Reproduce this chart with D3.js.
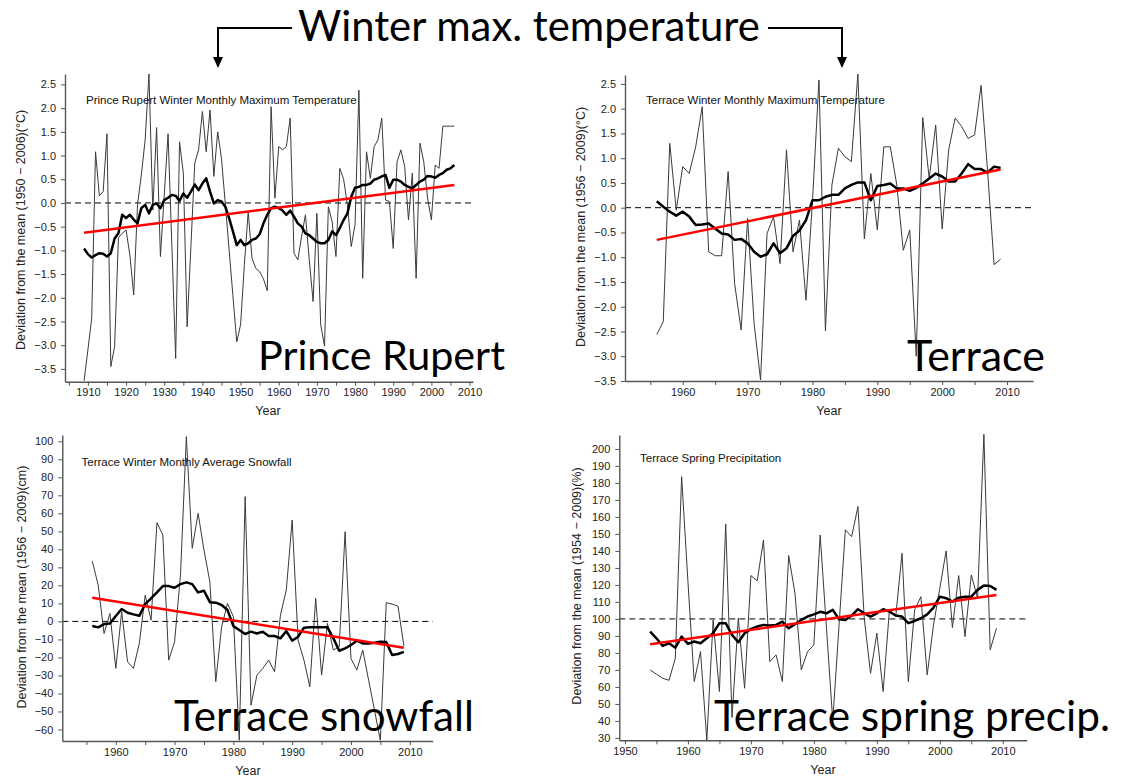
<!DOCTYPE html>
<html>
<head>
<meta charset="utf-8">
<script src="https://cdn.jsdelivr.net/npm/d3@7"></script>
<style>
  body { margin: 0; background: #fff; }
  svg { display: block; }
</style>
</head>
<body>
<script>
// ---- Prince Rupert winter monthly maximum temperature (deviation, °C), 1909–2006
const prStart = 1909;
const prMax = [
  -3.75, -3.1, -2.43, 1.08, 0.15, 0.24, 1.46, -3.45, -3.03, -0.73,
  -0.64, -0.57, -1.1, -1.94, -0.04, 0.59, 1.33, 2.72, -0.15, 1.59,
  -1.13, 0.15, 1.46, -0.9, -3.28, 1.29, 0.63, -2.61, -0.9, 0.84,
  1.12, 1.93, 1.08, 1.96, 0.56, 1.5, 0.94, -0.02, -0.99, -1.96,
  -2.93, -2.57, -1.3, -0.18, -1.17, -1.38, -1.45, -1.6, -1.85, 2.03,
  0.1, 1.19, 1.12, 1.19, 1.79, -1.06, -1.2, -0.7, -0.25, -1.2,
  -2.08, -0.22, -2.57, -3.02, -0.08, -0.4, -1.13, 0.73, 0.5, -0.04,
  -0.92, -0.45, 2.38, -1.59, 1.08, 0.52, 1.19, 1.33, 1.79, 0.06,
  0.03, -0.96, 0.87, 1.12, 0.77, -0.36, 0.63, -1.59, 1.26, 0.87,
  0.1, -0.36, 0.8, 0.73, 1.62, 1.62, 1.62, 1.62
];
const prMaxSmooth = [
  -0.96, -1.08, -1.15, -1.1, -1.06, -1.07, -1.13, -1.06, -0.75, -0.64,
  -0.25, -0.32, -0.25, -0.35, -0.43, -0.11, -0.04, -0.22, -0.04, -0.01,
  -0.11, 0.06, 0.11, 0.17, 0.15, 0.04, 0.2, 0.11, 0.24, 0.39,
  0.27, 0.41, 0.52, 0.24, -0.01, 0.06, 0.03, -0.08, -0.32, -0.6,
  -0.89, -0.78, -0.89, -0.85, -0.78, -0.75, -0.66, -0.43, -0.25, -0.11,
  -0.08, -0.11, -0.16, -0.25, -0.16, -0.29, -0.43, -0.5, -0.64, -0.68,
  -0.75, -0.82, -0.85, -0.85, -0.78, -0.6, -0.68, -0.53, -0.36, -0.22,
  0.13, 0.32, 0.34, 0.38, 0.38, 0.41, 0.49, 0.52, 0.56, 0.59,
  0.32, 0.49, 0.49, 0.45, 0.38, 0.34, 0.31, 0.38, 0.45, 0.49,
  0.57, 0.56, 0.53, 0.59, 0.63, 0.7, 0.73, 0.8
];
const prMaxTrend = [-0.63, 0.38];

// ---- Terrace winter monthly maximum temperature (deviation, °C), 1956–2009
const trStart = 1956;
const trMax = [
  -2.56, -2.3, 1.3, -0.05, 0.83, 0.69, 1.23, 2.04, -0.89, -0.97,
  -0.97, 0.73, -1.53, -2.47, -0.22, -2.34, -3.48, -0.52, -0.18, -1.13,
  1.17, -0.89, -0.25, -1.87, 0.12, 2.58, -2.49, 0.46, 1.2, 1.03,
  0.93, 2.7, -0.63, 0.69, -0.45, 1.23, 1.23, 0.46, -0.86, -0.45,
  -3.0, 1.82, 0.59, 1.67, -0.43, 1.17, 1.81, 1.64, 1.4, 1.47,
  2.47, 0.73, -1.15, -1.04
];
const trMaxSmooth = [
  0.13, 0.02, -0.08, -0.16, -0.08, -0.18, -0.35, -0.34, -0.32, -0.42,
  -0.52, -0.54, -0.65, -0.63, -0.72, -0.89, -0.99, -0.94, -0.72, -0.92,
  -0.82, -0.57, -0.46, -0.25, 0.15, 0.15, 0.22, 0.26, 0.26, 0.39,
  0.46, 0.51, 0.51, 0.15, 0.44, 0.46, 0.49, 0.39, 0.39, 0.34,
  0.4, 0.49, 0.59, 0.69, 0.63, 0.53, 0.53, 0.69, 0.88, 0.78,
  0.78, 0.71, 0.83, 0.8
];
const trMaxTrend = [-0.65, 0.77];

// ---- Terrace winter monthly average snowfall (deviation, cm), 1956–2009
const snowStart = 1956;
const snow = [
  33.5, 20.2, -6.7, 4.4, -26.1, 5.4, -22.4, -26.1, -12.2, 14.6,
  0.7, 54.8, 48, -21.5, -11.3, 25.7, 102.6, 40.6, 60, 39.6,
  22, -33.5, -3, 10, 2.6, -66, 69.3, -46.5, -29.8, -26.1,
  -21.5, -28, 3.5, 17.4, 56.3, -10.4, -21.5, -36.3, 12.8, -29.8,
  -1.1, -15.9, -14.1, 49.8, -20.6, -27, -15.9, -32.6, -49.3, -66,
  10.4, 9.6, 8.5, -13.7
];
const snowSmooth = [
  -2.6, -3.3, -1.5, -1.1, 3, 6.9, 4.8, 3.9, 3.1, 9.6,
  12.8, 16.1, 19.6, 19.6, 18.7, 20.7, 21.7, 20.7, 16.1, 17,
  10.7, 10.4, 9.1, 6.3, -2.6, -4.8, -7, -5.7, -6.7, -5.7,
  -8.1, -8.1, -9.4, -5.4, -10.7, -8.5, -3.5, -3.3, -3.3, -3.3,
  -3.3, -9.4, -16.3, -15, -13.1, -10.7, -12.2, -12.2, -11.9, -11.3,
  -11.5, -18.7, -18.1, -16.9
];
const snowTrend = [13.1, -14.6];

// ---- Terrace spring precipitation (% of mean), 1954–2009
const precipStart = 1954;
const precip = [
  70, 67.5, 65.1, 63.9, 76.9, 183.7, 122, 63.1, 80.8, 28.7,
  99.4, 57.3, 155.9, 42, 100.4, 59.2, 125.5, 122.4, 146.5, 74.9,
  78.8, 63.1, 137.3, 115.1, 70, 80.8, 84.7, 149.4, 94.7, 40,
  96.2, 152.4, 148.4, 166.1, 100.4, 68, 91.6, 57.3, 105.3, 101.4,
  138.6, 63.1, 105.3, 113.1, 67.1, 96.5, 118, 140, 94.9, 125.5,
  89.6, 125.9, 112.2, 208.6, 81.8, 94.5
];
const precipSmooth = [
  92.5, 88.6, 84.1, 85.7, 83.1, 89.6, 85.3, 86.7, 85.7, 88.6,
  91.6, 97.5, 97.5, 90.6, 86.3, 91.6, 94.1, 95.5, 96.5, 96.1,
  96.5, 98.4, 94.5, 96.9, 99.4, 101.4, 102.7, 104.2, 103.3, 105.3,
  99.8, 99.4, 102, 105.7, 103.3, 101.4, 103.3, 105.7, 104.3, 102,
  101.4, 97.5, 98.8, 100.4, 102.7, 106.7, 113.1, 112.2, 110.2, 112.5,
  113.1, 113.1, 117.1, 119.6, 119.4, 117.1
];
const precipTrend = [85.1, 114.1];

// ---- axis tick values
const tempTicks = d3.range(-3.5, 2.51, 0.5);
const snowTicks = d3.range(-60, 101, 10);
const precipTicks = d3.range(30, 201, 10);

// ---- text
const headline = "Winter max. temperature";
const yearLabel = "Year";

const W = 1124, H = 778;
const svg = d3.select("body").append("svg")
  .attr("width", W).attr("height", H)
  .attr("viewBox", `0 0 ${W} ${H}`);

const SANS = "'Liberation Sans', Arial, Helvetica, sans-serif";
const BIG = "Lato, 'Open Sans', sans-serif";

const panels = [
  {
    start: prStart, values: prMax, smooth: prMaxSmooth, trend: prMaxTrend, ref: 0,
    xDom: [1904, 2010.9], yDom: [-3.77, 2.72],
    left: 65, right: 473, top: 74, bottom: 381.7,
    xTickStart: 1905, yTicks: tempTicks, yFmt: d3.format(".1f"),
    title: "Prince Rupert Winter Monthly Maximum Temperature", titleX: 86, titleY: 103.5,
    ylab: "Deviation from the mean (1950 \u2212 2006)(\u00B0C)", ylabX: 25, ylabY: 230,
    yearX: 268, yearY: 415,
    big: "Prince Rupert", bigX: 258, bigY: 370, bigW: 247
  },
  {
    start: trStart, values: trMax, smooth: trMaxSmooth, trend: trMaxTrend, ref: 0,
    xDom: [1951.1, 2014], yDom: [-3.5, 2.68],
    left: 625, right: 1033, top: 75, bottom: 381,
    xTickStart: 1955, yTicks: tempTicks, yFmt: d3.format(".1f"),
    title: "Terrace Winter Monthly Maximum Temperature", titleX: 646, titleY: 103.5,
    ylab: "Deviation from the mean (1956 \u2212 2009)(\u00B0C)", ylabX: 585, ylabY: 227,
    yearX: 829, yearY: 415,
    big: "Terrace", bigX: 907, bigY: 370.5, bigW: 138
  },
  {
    start: snowStart, values: snow, smooth: snowSmooth, trend: snowTrend, ref: 0,
    xDom: [1950.9, 2013.9], yDom: [-66.4, 103.5],
    left: 62.3, right: 432.7, top: 435, bottom: 741,
    xTickStart: 1955, yTicks: snowTicks, yFmt: d3.format("d"),
    title: "Terrace Winter Monthly Average Snowfall", titleX: 81.5, titleY: 466,
    ylab: "Deviation from the mean (1956 \u2212 2009)(cm)", ylabX: 26, ylabY: 587,
    yearX: 248, yearY: 775,
    big: "Terrace snowfall", bigX: 174, bigY: 731, bigW: 300
  },
  {
    start: precipStart, values: precip, smooth: precipSmooth, trend: precipTrend, ref: 100,
    xDom: [1949.1, 2013.8], yDom: [28.6, 208.2],
    left: 619.3, right: 1026.7, top: 435, bottom: 740.3,
    xTickStart: 1950, yTicks: precipTicks, yFmt: d3.format("d"),
    title: "Terrace Spring Precipitation", titleX: 640, titleY: 462,
    ylab: "Deviation from the mean (1954 \u2212 2009)(%)", ylabX: 581, ylabY: 586,
    yearX: 823, yearY: 774,
    big: "Terrace spring precip.", bigX: 714, bigY: 731, bigW: 396
  }
];

function fitWidth(t, w) {
  const len = t.node().getComputedTextLength();
  const fs = parseFloat(t.attr("font-size"));
  if (len > 0) t.attr("font-size", fs * w / len);
}

panels.forEach(p => {
  const g = svg.append("g");
  const x = d3.scaleLinear().domain(p.xDom).range([p.left, p.right]);
  const y = d3.scaleLinear().domain(p.yDom).range([p.bottom, p.top]);
  const n = p.values.length;
  const line = d3.line().x((d, i) => x(p.start + i)).y(d => y(d));

  // reference level
  g.append("line")
    .attr("x1", p.left).attr("x2", p.right)
    .attr("y1", y(p.ref)).attr("y2", y(p.ref))
    .attr("stroke", "#000").attr("stroke-width", 1)
    .attr("stroke-dasharray", "6,4");

  // annual values
  g.append("path").datum(p.values).attr("d", line)
    .attr("fill", "none").attr("stroke", "#3a3a3a").attr("stroke-width", 1)
    .attr("stroke-linejoin", "miter");

  // smoothed series
  g.append("path").datum(p.smooth).attr("d", line)
    .attr("fill", "none").attr("stroke", "#000").attr("stroke-width", 2.5)
    .attr("stroke-linejoin", "round");

  // linear trend
  g.append("line")
    .attr("x1", x(p.start)).attr("y1", y(p.trend[0]))
    .attr("x2", x(p.start + n - 1)).attr("y2", y(p.trend[1]))
    .attr("stroke", "#ff0000").attr("stroke-width", 2.5);

  // axes
  const xTicks = d3.range(p.xTickStart, 2011, 5);
  const xAxis = d3.axisBottom(x).tickValues(xTicks)
    .tickFormat(d => d % 10 === 0 ? String(d) : "")
    .tickSize(4).tickSizeOuter(0).tickPadding(3);
  const yAxis = d3.axisLeft(y).tickValues(p.yTicks).tickFormat(p.yFmt)
    .tickSize(4).tickSizeOuter(0).tickPadding(5);

  const gx = g.append("g").attr("transform", `translate(0,${p.bottom})`).call(xAxis);
  const gy = g.append("g").attr("transform", `translate(${p.left},0)`).call(yAxis);
  [gx, gy].forEach(a => {
    a.select(".domain").attr("stroke", "#555").attr("stroke-width", 1.4);
    a.selectAll(".tick line").attr("stroke", "#555").attr("stroke-width", 1);
    a.selectAll(".tick text").attr("fill", "#222")
      .attr("font-family", SANS).attr("font-size", 11);
  });

  // chart title
  g.append("text").attr("x", p.titleX).attr("y", p.titleY)
    .attr("font-family", SANS).attr("font-size", 11.5).attr("fill", "#111")
    .text(p.title);

  // axis titles
  g.append("text").attr("x", p.yearX).attr("y", p.yearY)
    .attr("text-anchor", "middle").attr("font-family", SANS)
    .attr("font-size", 12.5).attr("fill", "#222").text(yearLabel);

  g.append("text")
    .attr("transform", `translate(${p.ylabX},${p.ylabY}) rotate(-90)`)
    .attr("text-anchor", "middle").attr("font-family", SANS)
    .attr("font-size", 12.5).attr("fill", "#222").text(p.ylab);

  // station label
  const big = g.append("text").attr("x", p.bigX).attr("y", p.bigY)
    .attr("font-family", BIG).attr("font-size", 40).attr("fill", "#000")
    .text(p.big);
  fitWidth(big, p.bigW);
});

// headline with bracket arrows pointing at the two temperature panels
const head = svg.append("text").attr("x", 298).attr("y", 41)
  .attr("font-family", BIG).attr("font-size", 38).attr("fill", "#000")
  .text(headline);
fitWidth(head, 462);

const arrowPaths = [
  [[292, 28], [218, 28], [218, 57]],
  [[768, 28], [842, 28], [842, 57]]
];
arrowPaths.forEach(pts => {
  svg.append("path").attr("d", d3.line()(pts))
    .attr("fill", "none").attr("stroke", "#000").attr("stroke-width", 2);
  const [tx, ty] = pts[2];
  svg.append("path")
    .attr("d", `M${tx - 5},${ty} L${tx + 5},${ty} L${tx},${ty + 11} Z`)
    .attr("fill", "#000");
});
</script>
</body>
</html>
